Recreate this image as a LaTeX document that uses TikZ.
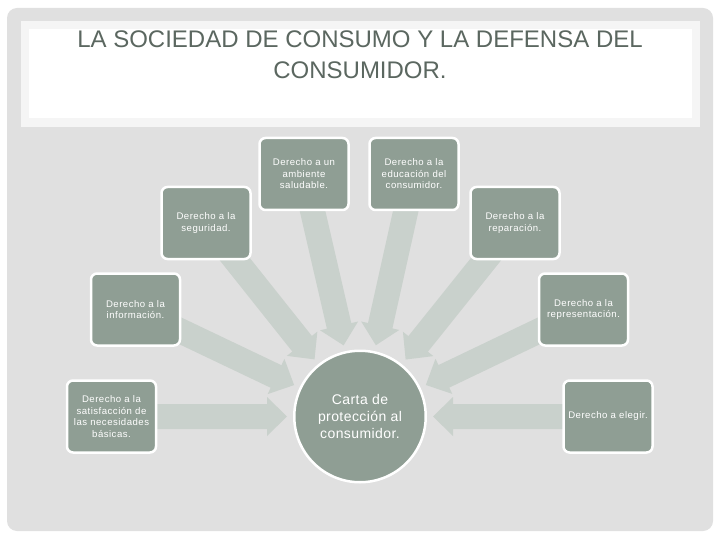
\documentclass[tikz,border=0pt]{standalone}
\usepackage{fontspec}
\usetikzlibrary{calc}
\newfontfamily\titlefont{Liberation Sans}
\newfontfamily\boxfont[LetterSpace=5]{Liberation Sans}
\newfontfamily\circfont[LetterSpace=3]{Liberation Sans}
\definecolor{bgray}{HTML}{E0E0E0}
\definecolor{titleedge}{HTML}{F5F5F5}
\definecolor{boxfill}{HTML}{8F9E94}
\definecolor{arrowfill}{HTML}{C9D1CC}
\definecolor{titlecol}{HTML}{5B6760}
\pgfdeclarelayer{bglayer}
\pgfdeclarelayer{arrowlayer}
\pgfsetlayers{bglayer,arrowlayer,main}
\newcommand\blockarrow[1]{%
  \fill[arrowfill] let \p1=(#1.center), \p2=(circ.center), \n1={atan2(\y1-\y2,\x1-\x2)} in
    ($(circ.center)+(\n1:73pt)$)
    -- ($(circ.center)+(\n1:93pt)+(\n1+90:19.5pt)$)
    -- ($(circ.center)+(\n1:93pt)+(\n1+90:12.5pt)$)
    -- ($(#1.center)+(\n1+90:12.5pt)$)
    -- ($(#1.center)+(\n1-90:12.5pt)$)
    -- ($(circ.center)+(\n1:93pt)+(\n1-90:12.5pt)$)
    -- ($(circ.center)+(\n1:93pt)+(\n1-90:19.5pt)$)
    -- cycle;}
\begin{document}
\begin{tikzpicture}[x=1pt,y=-1pt,
  rbox/.style={rectangle, rounded corners=6pt, fill=boxfill, draw=white, line width=2.5pt,
    minimum width=89pt, minimum height=72pt, text width=86pt, align=center, inner sep=0pt,
    text=white, font=\boxfont\fontsize{9.6}{11.5}\selectfont},
  circstyle/.style={circle, fill=boxfill, draw=white, line width=2.5pt, minimum size=131.5pt,
    align=center, inner sep=0pt, text=white, font=\circfont\fontsize{14}{17}\selectfont},
  titlestyle/.style={anchor=base, inner sep=0pt, text=titlecol, font=\titlefont\fontsize{24}{31}\selectfont}]
\useasboundingbox (0,0) rectangle (720,540);
\begin{pgfonlayer}{bglayer}
  \fill[white] (0,0) rectangle (720,540);
  \fill[bgray, rounded corners=10pt] (7,8) rectangle (713,531);
  \fill[titleedge] (21,21) rectangle (700,127);
  \fill[white] (29,29) rectangle (692,118);
\end{pgfonlayer}
\node[titlestyle] (title1) at (360,48) {LA SOCIEDAD DE CONSUMO Y LA DEFENSA DEL};
\node[titlestyle] (title2) at (360,79) {CONSUMIDOR.};

\node[circstyle] (circ) at (360,416.5) {Carta de\\protección al\\consumidor.};

\node[rbox] (salud) at (304,174) {Derecho a un\\ambiente\\saludable.};
\node[rbox] (educ) at (414,174) {Derecho a la\\educación del\\consumidor.};
\node[rbox] (segur) at (206,223) {Derecho a la\\seguridad.};
\node[rbox] (repar) at (515,223) {Derecho a la\\reparación.};
\node[rbox] (info) at (135.5,309.5) {Derecho a la\\información.};
\node[rbox] (repre) at (583.5,309.5) {Derecho a la\\representación.};
\node[rbox] (satis) at (111.5,416.5) {Derecho a la\\satisfacción de\\las necesidades\\básicas.};
\node[rbox] (elegir) at (608,416.5) {Derecho a elegir.};

\begin{pgfonlayer}{arrowlayer}
  \blockarrow{salud}
  \blockarrow{educ}
  \blockarrow{segur}
  \blockarrow{repar}
  \blockarrow{info}
  \blockarrow{repre}
  \blockarrow{satis}
  \blockarrow{elegir}
\end{pgfonlayer}
\end{tikzpicture}
\end{document}
